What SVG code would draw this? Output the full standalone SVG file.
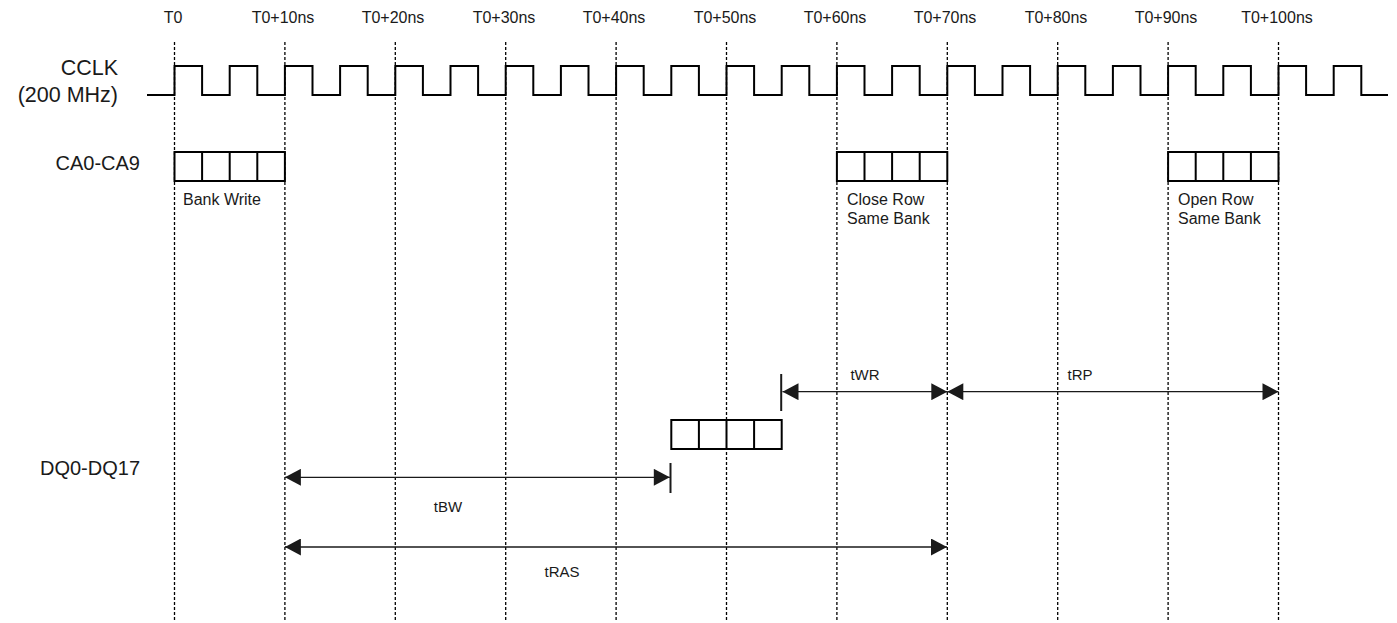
<svg xmlns="http://www.w3.org/2000/svg" width="1397" height="623" viewBox="0 0 1397 623">
<defs>
<style>
text{font-family:"Liberation Sans",Arial,sans-serif;fill:#1a1a1a}
.tl{font-size:16px;text-anchor:middle}
.sig{font-size:21.5px;text-anchor:end}
.sig2{font-size:20px;text-anchor:end}
.note{font-size:16px}
.lbl{font-size:15px;text-anchor:middle}
.grid{stroke:#000;stroke-width:1.3;stroke-dasharray:3,2;fill:none}
.clk{stroke:#000;stroke-width:2;fill:none}
.box{stroke:#000;stroke-width:2;fill:#fff}
.cell{stroke:#000;stroke-width:2}
.dim{stroke:#1a1a1a;stroke-width:1.3;fill:none}
.bar{stroke:#1a1a1a;stroke-width:2}
</style>
<marker id="ah" markerUnits="userSpaceOnUse" markerWidth="17" markerHeight="17" viewBox="0 0 16 17" refX="16" refY="8.5" orient="auto-start-reverse">
<path d="M0,0 L16,8.5 L0,17 Z" fill="#1a1a1a"/>
</marker>
</defs>
<rect width="1397" height="623" fill="#fff"/>

<g id="timeline">
<text class="tl" x="173" y="23">T0</text>
<text class="tl" x="283" y="23">T0+10ns</text>
<text class="tl" x="393" y="23">T0+20ns</text>
<text class="tl" x="504" y="23">T0+30ns</text>
<text class="tl" x="614" y="23">T0+40ns</text>
<text class="tl" x="725" y="23">T0+50ns</text>
<text class="tl" x="835" y="23">T0+60ns</text>
<text class="tl" x="945" y="23">T0+70ns</text>
<text class="tl" x="1056" y="23">T0+80ns</text>
<text class="tl" x="1166" y="23">T0+90ns</text>
<text class="tl" x="1277" y="23">T0+100ns</text>
<path class="grid" d="M174.5,42V620M284.9,42V620M395.3,42V620M505.7,42V620M616.1,42V620M726.5,42V620M836.9,42V620M947.3,42V620M1057.7,42V620M1168.1,42V620M1278.5,42V620"/>
</g>

<g id="cclk">
<text class="sig" x="118" y="75">CCLK</text>
<text class="sig" x="118" y="102">(200 MHz)</text>
<path class="clk" d="M147,95 H174.5V66H202.1V95 H229.7V66H257.3V95 H284.9V66H312.5V95 H340.1V66H367.7V95 H395.3V66H422.9V95 H450.5V66H478.1V95 H505.7V66H533.3V95 H560.9V66H588.5V95 H616.1V66H643.7V95 H671.3V66H698.9V95 H726.5V66H754.1V95 H781.7V66H809.3V95 H836.9V66H864.5V95 H892.1V66H919.7V95 H947.3V66H974.9V95 H1002.5V66H1030.1V95 H1057.7V66H1085.3V95 H1112.9V66H1140.5V95 H1168.1V66H1195.7V95 H1223.3V66H1250.9V95 H1278.5V66H1306.1V95 H1333.7V66H1361.3V95 H1388"/>
</g>

<g id="ca">
<text class="sig2" x="140" y="170">CA0-CA9</text>
</g>

<g id="bank-write">
<rect class="box" x="174.5" y="152" width="110.4" height="29"/>
<path class="cell" d="M202.1,152V181M229.7,152V181M257.3,152V181"/>
<text class="note" x="183" y="205">Bank Write</text>
</g>

<g id="close-row">
<rect class="box" x="836.9" y="152" width="110.4" height="29"/>
<path class="cell" d="M864.5,152V181M892.1,152V181M919.7,152V181"/>
<text class="note" x="847" y="204.5">Close Row</text>
<text class="note" x="847" y="223.5">Same Bank</text>
</g>

<g id="open-row">
<rect class="box" x="1168.1" y="152" width="110.4" height="29"/>
<path class="cell" d="M1195.7,152V181M1223.3,152V181M1250.9,152V181"/>
<text class="note" x="1178" y="204.5">Open Row</text>
<text class="note" x="1178" y="223.5">Same Bank</text>
</g>

<g id="dq">
<text class="sig2" x="140" y="475">DQ0-DQ17</text>
</g>

<g id="dq-data">
<rect class="box" x="671.3" y="420" width="110.4" height="29"/>
<path class="cell" d="M698.9,420V449M726.5,420V449M754.1,420V449"/>
</g>

<g id="connectors">
<line class="bar" x1="781.2" y1="374" x2="781.2" y2="411"/>
<line class="dim" x1="782.5" y1="391.7" x2="947.3" y2="391.7" marker-start="url(#ah)" marker-end="url(#ah)"/>
<text class="lbl" x="865" y="380">tWR</text>
<line class="dim" x1="947.3" y1="391.7" x2="1278.5" y2="391.7" marker-start="url(#ah)" marker-end="url(#ah)"/>
<text class="lbl" x="1080" y="380">tRP</text>
<line class="bar" x1="670.5" y1="463" x2="670.5" y2="493"/>
<line class="dim" x1="284.9" y1="477.3" x2="669.8" y2="477.3" marker-start="url(#ah)" marker-end="url(#ah)"/>
<text class="lbl" x="448" y="512">tBW</text>
<line class="dim" x1="284.9" y1="547" x2="947" y2="547" marker-start="url(#ah)" marker-end="url(#ah)"/>
<text class="lbl" x="562" y="577">tRAS</text>
</g>
</svg>
